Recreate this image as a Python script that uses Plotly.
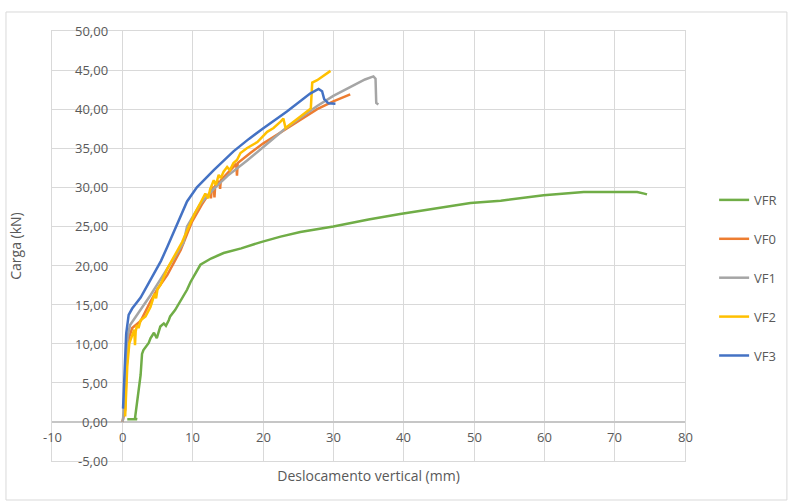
import plotly.graph_objects as go

# ---------------- data ----------------
vfr_x = [0.7, 2.1, 1.8, 2.2, 2.6, 2.8, 3.0, 3.75, 4.0, 4.5, 4.9, 5.2, 5.4, 5.9, 6.2, 6.6, 6.8, 7.5, 8.2, 9.2,
         9.7, 11.1, 12.6, 14.4, 16.9, 19.7, 22.5, 25.3, 30.0, 35.0, 39.5, 45.0, 49.5, 53.8, 59.9, 65.6, 69.9,
         73.2, 74.2, 74.6]
vfr_y = [0.35, 0.35, 0.45, 3.0, 6.0, 8.7, 9.2, 10.1, 10.7, 11.4, 10.7, 11.6, 12.2, 12.6, 12.3, 13.0, 13.5, 14.3,
         15.4, 16.9, 17.9, 20.1, 20.9, 21.6, 22.2, 23.0, 23.7, 24.3, 25.0, 25.9, 26.6, 27.4, 28.0, 28.3, 29.0,
         29.4, 29.45, 29.4, 29.2, 29.1]

vf0_x = [0.0, 0.4, 0.6, 1.0, 1.4, 2.6, 4.0, 5.0, 6.4, 8.3, 9.9, 11.3, 12.4, 12.6, 12.7, 13.0, 13.1, 13.2,
         13.8, 13.9, 14.0, 16.2, 16.3, 16.4, 18.2, 20.0, 23.0, 25.5, 27.7, 30.0, 32.4]
vf0_y = [0.0, 1.5, 7.1, 10.9, 12.0, 12.9, 15.4, 17.0, 18.8, 22.0, 25.6, 27.8, 29.3, 28.6, 29.6, 30.1, 28.7, 30.2,
         30.8, 29.8, 30.9, 33.0, 31.5, 33.1, 34.4, 35.6, 37.3, 38.7, 40.0, 41.0, 41.9]

vf1_x = [0.0, 0.1, 0.4, 0.75, 1.1, 2.1, 3.0, 4.0, 5.4, 6.4, 8.7, 9.2, 11.1, 13.0, 15.0, 17.7, 20.0, 23.0,
         25.0, 27.7, 30.0, 32.5, 34.5, 35.7, 36.0, 36.1, 36.4]
vf1_y = [0.0, 0.3, 4.9, 10.9, 12.4, 13.7, 14.9, 16.2, 18.2, 19.6, 22.9, 25.0, 27.9, 29.8, 31.5, 33.4, 35.1, 37.4,
         38.7, 40.4, 41.7, 42.9, 43.8, 44.2, 43.9, 40.8, 40.6]

vf2_x = [0.4, 0.5, 0.7, 1.0, 1.4, 1.7, 1.8, 1.9, 2.1, 2.3, 2.6, 3.3, 4.0, 4.6, 4.8, 5.0, 5.4, 5.9, 6.4,
         8.5, 10.2, 11.1, 11.8, 12.2, 12.5, 13.0, 13.3, 13.7, 14.0, 14.4, 14.9, 15.3, 15.8, 16.3, 16.8,
         17.7, 19.2, 20.6, 21.5, 22.5, 22.9, 23.2, 24.9, 26.8, 27.0, 27.7, 29.6]
vf2_y = [0.7, 2.8, 7.1, 10.1, 11.1, 11.8, 9.8, 11.6, 12.4, 12.0, 13.0, 13.5, 14.7, 16.4, 15.8, 17.0, 17.5, 18.6,
         19.6, 23.0, 26.5, 28.0, 29.2, 28.6, 29.8, 30.9, 30.3, 31.6, 31.2, 32.0, 32.6, 32.2, 33.1, 33.5, 34.4,
         35.0, 35.8, 37.1, 37.6, 38.4, 38.8, 37.6, 38.8, 40.1, 43.4, 43.7, 44.9]

vf3_x = [0.1, 0.3, 0.55, 0.9, 1.4, 2.6, 4.0, 5.5, 6.4, 7.8, 9.2, 10.6, 12.0, 13.0, 15.8, 18.0, 20.1, 23.4,
         26.7, 27.9, 28.4, 28.7, 29.3, 30.3]
vf3_y = [1.7, 7.0, 11.3, 13.7, 14.5, 15.9, 18.2, 20.6, 22.4, 25.3, 28.2, 30.0, 31.3, 32.2, 34.6, 36.2, 37.6, 39.7,
         42.0, 42.6, 42.3, 41.3, 40.75, 40.7]

series_names = ["VFR", "VF0", "VF1", "VF2", "VF3"]
series_x = [vfr_x, vf0_x, vf1_x, vf2_x, vf3_x]
series_y = [vfr_y, vf0_y, vf1_y, vf2_y, vf3_y]
series_colors = ["#70AD47", "#ED7D31", "#A5A5A5", "#FFC000", "#4472C4"]

x_ticks = [-10, 0, 10, 20, 30, 40, 50, 60, 70, 80]
y_ticks = [-5, 0, 5, 10, 15, 20, 25, 30, 35, 40, 45, 50]
x_tick_labels = [str(v) for v in x_ticks]
y_tick_labels = [f"{v:.2f}".replace(".", ",") for v in y_ticks]

x_title = "Deslocamento vertical (mm)"
y_title = "Carga (kN)"

# ---------------- figure ----------------
FONT = "Open Sans"
TXT = "#595959"
GRID = "#d9d9d9"

fig = go.Figure()
for name, xs, ys, col in zip(series_names, series_x, series_y, series_colors):
    fig.add_trace(go.Scatter(x=xs, y=ys, mode="lines", name=name, legendgroup=name,
                             line=dict(color=col, width=2.5)))

annotations = []
for v, t in zip(y_ticks, y_tick_labels):
    annotations.append(dict(x=0, y=v, xref="x", yref="y", text=t, showarrow=False,
                            xanchor="right", yanchor="middle", xshift=-12,
                            font=dict(family=FONT, size=13, color=TXT)))
for v, t in zip(x_ticks, x_tick_labels):
    annotations.append(dict(x=v, y=0, xref="x", yref="y", text=t, showarrow=False,
                            xanchor="center", yanchor="top", yshift=-4,
                            font=dict(family=FONT, size=13, color=TXT)))

fig.update_layout(
    width=788, height=502,
    margin=dict(l=52, r=103, t=31, b=41, autoexpand=False),
    paper_bgcolor="white", plot_bgcolor="white",
    font=dict(family=FONT, size=13, color=TXT),
    annotations=annotations,
    showlegend=True,
    legend=dict(x=1.046, y=0.642, xanchor="left", yanchor="top", tracegroupgap=19,
                font=dict(family=FONT, size=13, color=TXT), bgcolor="rgba(0,0,0,0)"),
    shapes=[dict(type="rect", xref="paper", yref="paper", x0=-0.0727, x1=1.161, y0=-0.0907, y1=1.0442,
                 line=dict(color=GRID, width=1), layer="below")],
)
fig.update_xaxes(range=[-10, 80], tickvals=x_ticks, showticklabels=False, ticks="",
                 showgrid=True, gridcolor=GRID, gridwidth=1,
                 zeroline=True, zerolinecolor=GRID, zerolinewidth=1,
                 showline=True, linecolor=GRID, mirror=True,
                 title=dict(text=x_title, standoff=10, font=dict(family=FONT, size=14, color=TXT)),
                 automargin=False)
fig.update_yaxes(range=[-5, 50], tickvals=y_ticks, showticklabels=False, ticks="",
                 showgrid=True, gridcolor=GRID, gridwidth=1,
                 zeroline=True, zerolinecolor="#c6c6c6", zerolinewidth=2,
                 showline=True, linecolor=GRID, mirror=True,
                 title=dict(text=y_title, standoff=26, font=dict(family=FONT, size=14, color=TXT)),
                 automargin=False)

fig.write_html("out.html", config={"displayModeBar": False},
               post_script="document.body.style.margin='0px';document.body.style.overflow='hidden';")
